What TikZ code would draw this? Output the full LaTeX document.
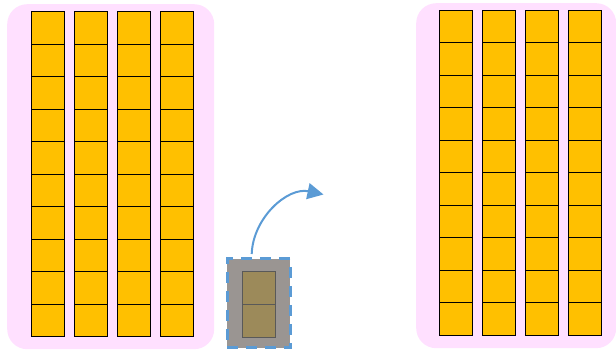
\documentclass[tikz,border=0pt]{standalone}
\usetikzlibrary{arrows.meta}
\definecolor{panelpink}{HTML}{FFE0FF}
\definecolor{gold}{HTML}{FFC000}
\definecolor{cellgray}{HTML}{9A9592}
\definecolor{cellbrown}{HTML}{9C8A5A}
\definecolor{arrowblue}{HTML}{5B9BD5}
\tikzset{
  panel/.style={fill=panelpink, draw=none, rounded corners=20pt},
  cell/.style={fill=gold, draw=black, line width=1pt},
  movebox/.style={fill=cellgray, draw=arrowblue, line width=3pt, dash pattern=on 11pt off 8pt},
  movecell/.style={fill=cellbrown, draw=black!65, line width=1pt},
  movearrow/.style={draw=arrowblue, line width=2pt, -{Triangle[length=16pt,width=16pt]}}
}
\begin{document}
\begin{tikzpicture}[x=1pt,y=-1pt]
\useasboundingbox (0,0) rectangle (616,352);
% left panel
\node[panel, minimum width=207pt, minimum height=345pt, anchor=north west, inner sep=0pt] (lp) at (7,4) {};
\foreach \c/\x in {1/31,2/74,3/117,4/160}{
  \foreach \r in {0,...,9}{
    \draw[cell] (\x,12+32.5*\r) rectangle (\x+33,12+32.5*\r+32.5);
  }
}
% right panel
\node[panel, minimum width=200pt, minimum height=345pt, anchor=north west, inner sep=0pt] (rp) at (416,3) {};
\foreach \c/\x in {1/439.5,2/482.5,3/525.5,4/568.5}{
  \foreach \r in {0,...,9}{
    \draw[cell] (\x,10.5+32.5*\r) rectangle (\x+33,10.5+32.5*\r+32.5);
  }
}
% moving block
\node[movebox, minimum width=63pt, minimum height=89pt, anchor=north west, inner sep=0pt] (mb) at (225.8,257.5) {};
\node[movecell, minimum width=33pt, minimum height=33pt, anchor=north west, inner sep=0pt] (m1) at (242,271) {};
\node[movecell, minimum width=33pt, minimum height=33pt, anchor=north west, inner sep=0pt] (m2) at (242,304) {};
\coordinate (as) at (251.7,254);
\coordinate (ae) at (323.5,194.5);
\draw[movearrow] (as) to[out=88, in=168] (ae);
\end{tikzpicture}
\end{document}
